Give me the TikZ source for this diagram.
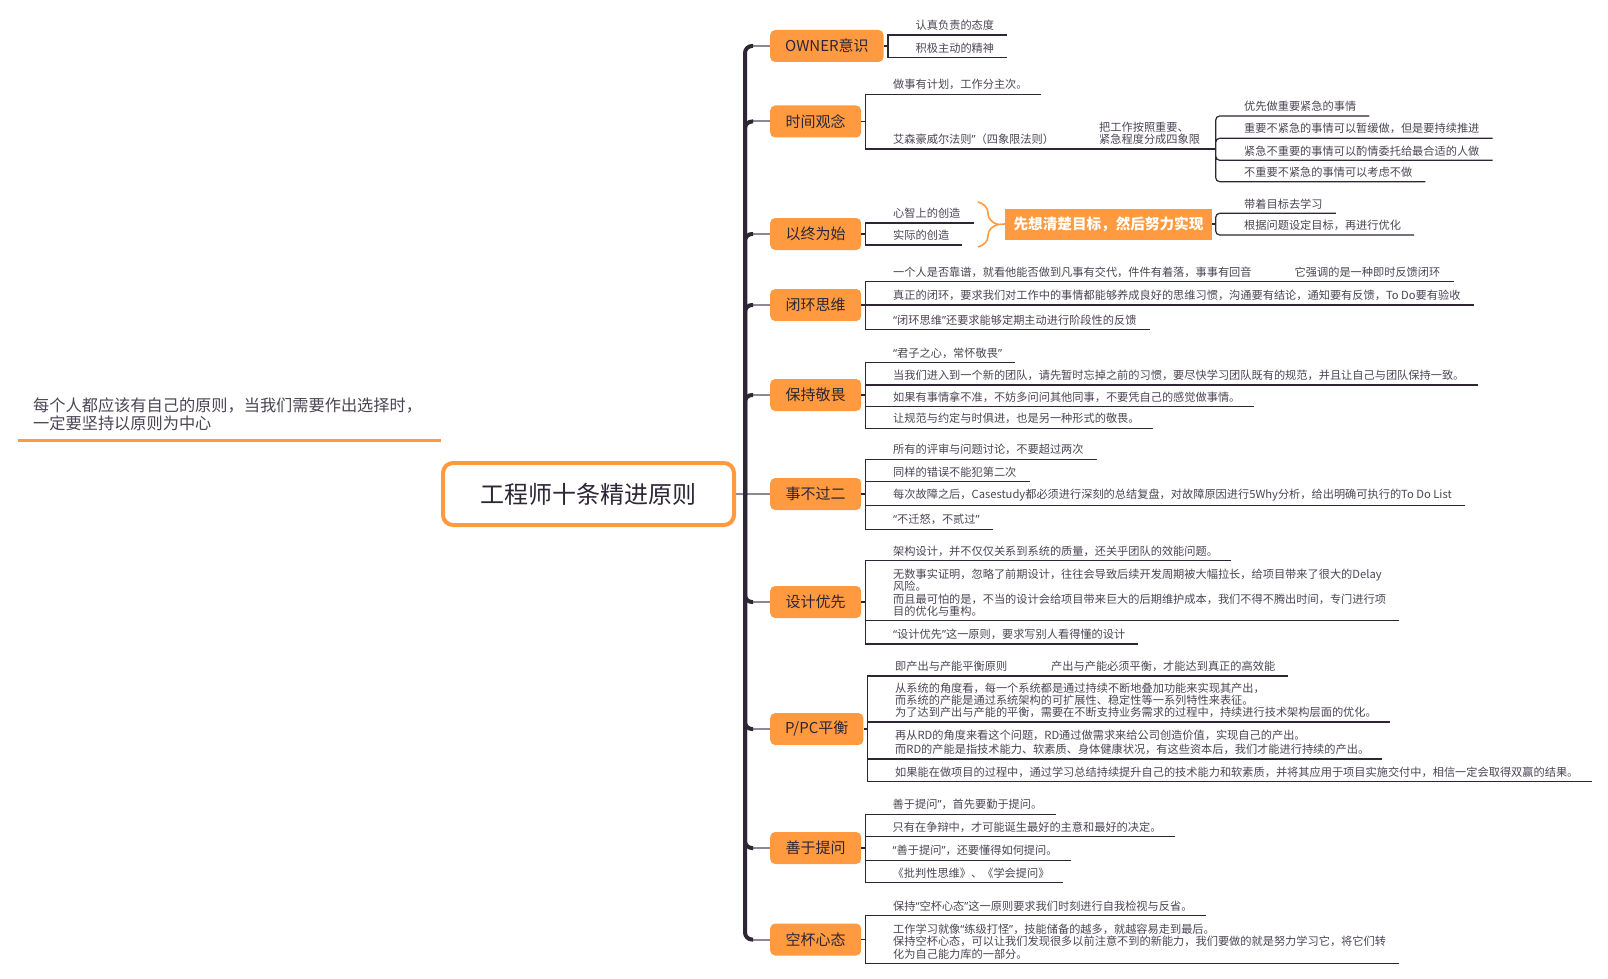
\documentclass[tikz,border=0pt]{standalone}
\usepackage{fontspec}
\setmainfont{Noto Sans CJK SC}
\newfontfamily\qfont{Noto Sans}
\newcommand{\qopen}{{\qfont “}}
\newcommand{\qclose}{{\qfont ”}}
\usetikzlibrary{decorations.pathreplacing}

\definecolor{mmorange}{HTML}{FF9A40}
\definecolor{mmdark}{HTML}{2E2535}
\definecolor{mmgray}{HTML}{8D8893}
\definecolor{mmtext}{HTML}{4B4453}

\begin{document}
\begin{tikzpicture}[
        x=1pt, y=-1pt,
        root/.style={draw=mmorange, line width=4pt, rounded corners=10pt, fill=white,
                     minimum width=291pt, minimum height=62pt, text=mmdark,
                     font=\fontsize{24}{28}\selectfont},
        note/.style={anchor=south west, inner sep=0pt, align=left, text=mmtext,
                     font=\fontsize{16.2}{18.3}\selectfont},
        branch/.style={anchor=west, fill=mmorange, rounded corners=5pt, minimum width=91pt,
                       minimum height=32pt, inner xsep=15pt, text=mmdark,
                       font=\fontsize{15}{18}\selectfont},
        leaf/.style={anchor=south west, inner xsep=0pt, inner ysep=4pt, align=left,
                     text=mmtext, font=\fontsize{11.2}{12.3}\selectfont},
        goal/.style={fill=mmorange, minimum width=207pt, minimum height=31pt, text=white,
                     font=\fontsize{14.6}{18}\selectfont\bfseries},
        trunk/.style={draw=mmdark, line width=4pt, rounded corners=7pt},
        twig/.style={draw=mmgray, line width=2pt},
        uline/.style={draw=mmdark, line width=1.2pt},
        noteline/.style={draw=mmorange, line width=3pt}
    ]
        \useasboundingbox (0,0) rectangle (1608,979);

        \node[root] (root) at (588.5,494) {工程师十条精进原则};
        \node[note] (note) at (33,431) {每个人都应该有自己的原则，当我们需要作出选择时，\\一定要坚持以原则为中心};
        \coordinate (noteL) at (17.5,440);
        \draw[noteline] (noteL) -- (noteL -| root.west);

        \node[branch] (own) at (770,46) {OWNER意识};
        \node[branch] (time) at (770,121.5) {时间观念};
        \node[branch] (begin) at (770,234) {以终为始};
        \node[branch] (loop) at (770,305) {闭环思维};
        \node[branch] (awe) at (770,395) {保持敬畏};
        \node[branch] (twice) at (770,494) {事不过二};
        \node[branch] (design) at (770,602) {设计优先};
        \node[branch] (ppc) at (770,729) {P/PC平衡};
        \node[branch] (ask) at (770,848) {善于提问};
        \node[branch] (cup) at (770,939.5) {空杯心态};

        \coordinate (J) at (745,494);
        \draw[twig] (root.east) -- (J);
        \draw[twig] (J) -- (twice.west);
        \draw[twig] ([xshift=-21pt]own.west) -- (own.west);
        \draw[twig] ([xshift=-21pt]time.west) -- (time.west);
        \draw[twig] ([xshift=-21pt]begin.west) -- (begin.west);
        \draw[twig] ([xshift=-21pt]loop.west) -- (loop.west);
        \draw[twig] ([xshift=-21pt]awe.west) -- (awe.west);
        \draw[twig] ([xshift=-21pt]design.west) -- (design.west);
        \draw[twig] ([xshift=-21pt]ppc.west) -- (ppc.west);
        \draw[twig] ([xshift=-21pt]ask.west) -- (ask.west);
        \draw[twig] ([xshift=-21pt]cup.west) -- (cup.west);
        \draw[trunk] (J) |- ([xshift=-17pt]own.west);
        \draw[trunk] (J) |- ([xshift=-17pt]time.west);
        \draw[trunk] (J) |- ([xshift=-17pt]begin.west);
        \draw[trunk] (J) |- ([xshift=-17pt]loop.west);
        \draw[trunk] (J) |- ([xshift=-17pt]awe.west);
        \draw[trunk] (J) |- ([xshift=-17pt]design.west);
        \draw[trunk] (J) |- ([xshift=-17pt]ppc.west);
        \draw[trunk] (J) |- ([xshift=-17pt]ask.west);
        \draw[trunk] (J) |- ([xshift=-17pt]cup.west);

        % OWNER
        \coordinate (ownB) at (888,46);
        \node[leaf] (own1) at (915.5,35) {认真负责的态度};
        \node[leaf] (own2) at (915.5,57.3) {积极主动的精神};
        \draw[uline] (own.east) -- (ownB);
        \draw[uline] (ownB) |- ([xshift=13pt]own1.south east) (ownB) |- ([xshift=13pt]own2.south east);

        % time
        \coordinate (timeB) at (865.5,121.5);
        \coordinate (quadB) at (1215.7,149);
        \node[leaf] (time1) at (893,94.3) {做事有计划，工作分主次。};
        \node[leaf] (time2) at (893,149) {艾森豪威尔法则\qclose（四象限法则）};
        \node[leaf] (time3) at (1099,149) {把工作按照重要、\\紧急程度分成四象限};
        \node[leaf] (q1) at (1244,116) {优先做重要紧急的事情};
        \node[leaf] (q2) at (1244,138.3) {重要不紧急的事情可以暂缓做，但是要持续推进};
        \node[leaf] (q3) at (1244,160.3) {紧急不重要的事情可以酌情委托给最合适的人做};
        \node[leaf] (q4) at (1244,181.7) {不重要不紧急的事情可以考虑不做};
        \draw[uline] (time.east) -- (timeB);
        \draw[uline] (timeB) |- ([xshift=13pt]time1.south east) (timeB) |- (quadB);
        \draw[uline, rounded corners=4pt] (quadB) |- ([xshift=13pt]q1.south east) (quadB) |- ([xshift=13pt]q2.south east)
            (quadB) |- ([xshift=13pt]q3.south east) (quadB) |- ([xshift=13pt]q4.south east);

        % begin
        \coordinate (beginB) at (865.5,234);
        \node[leaf] (b1) at (893,223) {心智上的创造};
        \node[leaf] (b2) at (893,245) {实际的创造};
        \draw[uline] (begin.east) -- (beginB);
        \draw[uline] (beginB) |- ([xshift=13pt]b1.south east) (beginB) |- ([xshift=13pt]b2.south east);
        \coordinate (braceT) at (978,202);
        \coordinate (braceB) at (978,247);
        \coordinate (braceTip) at (998,224.5);
        \draw[mmorange, line width=1.6pt, decorate, decoration={brace, amplitude=20pt}] (braceT) -- (braceB);
        \node[goal] (goalbox) at (1108.5,224) {先想清楚目标，然后努力实现};
        \draw[mmorange, line width=1.6pt] (braceTip) -- (goalbox.west);
        \coordinate (goalB) at (1215.7,224);
        \node[leaf] (g1) at (1244,213.3) {带着目标去学习};
        \node[leaf] (g2) at (1244,235) {根据问题设定目标，再进行优化};
        \draw[uline] (goalbox.east) -- (goalB);
        \draw[uline, rounded corners=4pt] (goalB) |- ([xshift=13pt]g1.south east) (goalB) |- ([xshift=13pt]g2.south east);

        % loop
        \coordinate (loopB) at (865.5,305);
        \node[leaf] (l1) at (893,281.7) {一个人是否靠谱，就看他能否做到凡事有交代，件件有着落，事事有回音};
        \node[leaf] (l1a) at (1294.5,281.7) {它强调的是一种即时反馈闭环};
        \node[leaf] (l2) at (893,305) {真正的闭环，要求我们对工作中的事情都能够养成良好的思维习惯，沟通要有结论，通知要有反馈，To Do要有验收};
        \node[leaf] (l3) at (893,329.3) {\qopen 闭环思维\qclose 还要求能够定期主动进行阶段性的反馈};
        \draw[uline] (loop.east) -- (loopB);
        \draw[uline] (loopB) |- ([xshift=13pt]l1a.south east) (loopB) |- ([xshift=13pt]l2.south east)
            (loopB) |- ([xshift=13pt]l3.south east);

        % awe
        \coordinate (aweB) at (865.5,395);
        \node[leaf] (a1) at (893,362.7) {\qopen 君子之心，常怀敬畏\qclose};
        \node[leaf] (a2) at (893,385) {当我们进入到一个新的团队，请先暂时忘掉之前的习惯，要尽快学习团队既有的规范，并且让自己与团队保持一致。};
        \node[leaf] (a3) at (893,406.7) {如果有事情拿不准，不妨多问问其他同事，不要凭自己的感觉做事情。};
        \node[leaf] (a4) at (893,428.3) {让规范与约定与时俱进，也是另一种形式的敬畏。};
        \draw[uline] (awe.east) -- (aweB);
        \draw[uline] (aweB) |- ([xshift=13pt]a1.south east) (aweB) |- ([xshift=13pt]a2.south east)
            (aweB) |- ([xshift=13pt]a3.south east) (aweB) |- ([xshift=13pt]a4.south east);

        % twice
        \coordinate (twiceB) at (865.5,494);
        \node[leaf] (t1) at (893,459.3) {所有的评审与问题讨论，不要超过两次};
        \node[leaf] (t2) at (893,481.7) {同样的错误不能犯第二次};
        \node[leaf] (t3) at (893,505.7) {每次故障之后，Casestudy都必须进行深刻的总结复盘，对故障原因进行5Why分析，给出明确可执行的To Do List};
        \node[leaf] (t4) at (893,529.3) {\qopen 不迁怒，不贰过\qclose};
        \draw[uline] (twice.east) -- (twiceB);
        \draw[uline] (twiceB) |- ([xshift=13pt]t1.south east) (twiceB) |- ([xshift=13pt]t2.south east)
            (twiceB) |- ([xshift=13pt]t3.south east) (twiceB) |- ([xshift=13pt]t4.south east);

        % design
        \coordinate (designB) at (865.5,602);
        \node[leaf] (d1) at (893,560.7) {架构设计，并不仅仅关系到系统的质量，还关乎团队的效能问题。};
        \node[leaf] (d2) at (893,620.7) {无数事实证明，忽略了前期设计，往往会导致后续开发周期被大幅拉长，给项目带来了很大的Delay\\风险。\\而且最可怕的是，不当的设计会给项目带来巨大的后期维护成本，我们不得不腾出时间，专门进行项\\目的优化与重构。};
        \node[leaf] (d3) at (893,644) {\qopen 设计优先\qclose 这一原则，要求写别人看得懂的设计};
        \draw[uline] (design.east) -- (designB);
        \draw[uline] (designB) |- ([xshift=13pt]d1.south east) (designB) |- ([xshift=13pt]d2.south east)
            (designB) |- ([xshift=13pt]d3.south east);

        % ppc
        \coordinate (ppcB) at (867.3,729);
        \node[leaf] (p1) at (895,676) {即产出与产能平衡原则};
        \node[leaf] (p1a) at (1051,676) {产出与产能必须平衡，才能达到真正的高效能};
        \node[leaf] (p2) at (895,722) {从系统的角度看，每一个系统都是通过持续不断地叠加功能来实现其产出，\\而系统的产能是通过系统架构的可扩展性、稳定性等一系列特性来表征。\\为了达到产出与产能的平衡，需要在不断支持业务需求的过程中，持续进行技术架构层面的优化。};
        \node[leaf] (p3) at (895,759) {再从RD的角度来看这个问题，RD通过做需求来给公司创造价值，实现自己的产出。\\[2pt]而RD的产能是指技术能力、软素质、身体健康状况，有这些资本后，我们才能进行持续的产出。};
        \node[leaf] (p4) at (895,781.7) {如果能在做项目的过程中，通过学习总结持续提升自己的技术能力和软素质，并将其应用于项目实施交付中，相信一定会取得双赢的结果。};
        \draw[uline] (ppc.east) -- (ppcB);
        \draw[uline] (ppcB) |- ([xshift=13pt]p1a.south east) (ppcB) |- ([xshift=13pt]p2.south east)
            (ppcB) |- ([xshift=13pt]p3.south east) (ppcB) |- ([xshift=13pt]p4.south east);

        % ask
        \coordinate (askB) at (865.5,848);
        \node[leaf] (k1) at (892.5,814.3) {善于提问\qclose，首先要勤于提问。};
        \node[leaf] (k2) at (892.5,836.7) {只有在争辩中，才可能诞生最好的主意和最好的决定。};
        \node[leaf] (k3) at (892.5,860.3) {\qopen 善于提问\qclose，还要懂得如何提问。};
        \node[leaf] (k4) at (892.5,882.3) {《批判性思维》、《学会提问》};
        \draw[uline] (ask.east) -- (askB);
        \draw[uline] (askB) |- ([xshift=13pt]k1.south east) (askB) |- ([xshift=13pt]k2.south east)
            (askB) |- ([xshift=13pt]k3.south east) (askB) |- ([xshift=13pt]k4.south east);

        % cup
        \coordinate (cupB) at (865.5,939.5);
        \node[leaf] (c1) at (893,915.3) {保持\qopen 空杯心态\qclose 这一原则要求我们时刻进行自我检视与反省。};
        \node[leaf] (c2) at (893,963.3) {工作学习就像\qopen 练级打怪\qclose，技能储备的越多，就越容易走到最后。\\保持空杯心态，可以让我们发现很多以前注意不到的新能力，我们要做的就是努力学习它，将它们转\\化为自己能力库的一部分。};
        \draw[uline] (cup.east) -- (cupB);
        \draw[uline] (cupB) |- ([xshift=13pt]c1.south east) (cupB) |- ([xshift=13pt]c2.south east);
    \end{tikzpicture}
\end{document}
